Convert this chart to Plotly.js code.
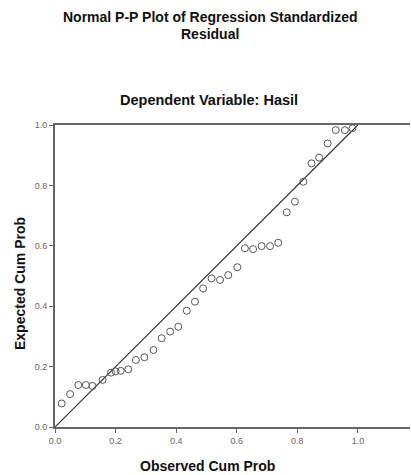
<!DOCTYPE html>
<html>
<head>
<meta charset="utf-8">
<script src="https://cdn.plot.ly/plotly-3.0.1.min.js"></script>
<style>html,body{margin:0;padding:0;background:#fff;}#chart{width:411px;height:475px;}</style>
</head>
<body>
<div id="chart"></div>
<script>
const observedCumProb = [0.022,0.050,0.077,0.102,0.124,0.157,0.185,0.200,0.217,0.242,0.267,0.295,0.325,0.352,0.380,0.407,0.435,0.462,0.489,0.517,0.545,0.572,0.602,0.627,0.654,0.682,0.710,0.737,0.765,0.792,0.820,0.847,0.872,0.900,0.927,0.957,0.982];
const expectedCumProb = [0.078,0.109,0.139,0.139,0.136,0.156,0.180,0.184,0.186,0.191,0.222,0.231,0.255,0.294,0.316,0.332,0.385,0.415,0.459,0.492,0.487,0.503,0.529,0.592,0.589,0.599,0.599,0.610,0.711,0.746,0.812,0.873,0.892,0.939,0.983,0.983,0.989];
const refLine = [0, 1];
const xTicks = [0, 0.2, 0.4, 0.6, 0.8, 1.0];
const yTicks = [0, 0.2, 0.4, 0.6, 0.8, 1.0];
const tickText = ['0.0','0.2','0.4','0.6','0.8','1.0'];
const titleLines = ['Normal P-P Plot of Regression Standardized', 'Residual'];
const subtitle = 'Dependent Variable: Hasil';
const xTitle = 'Observed Cum Prob';
const yTitle = 'Expected Cum Prob';

const font = 'Arial, "Liberation Sans", sans-serif';
const L = 55, R = 1, T = 125, B = 48, W = 411, H = 475;
const plotW = W - L - R, plotH = H - T - B;
const px = x => (x - L) / plotW;
const py = y => (H - B - y) / plotH;

const traces = [
  {x: refLine, y: refLine, mode: 'lines', line: {color: '#333', width: 1.2}, hoverinfo: 'skip', cliponaxis: false},
  {x: observedCumProb, y: expectedCumProb, mode: 'markers', cliponaxis: false,
   marker: {symbol: 'circle-open', size: 7, color: '#555', line: {width: 1, color: '#555'}}}
];

function ann(text, x, y, size, angle) {
  return {text: '<b>' + text + '</b>', xref: 'paper', yref: 'paper', x: px(x), y: py(y),
    xanchor: 'center', yanchor: 'middle', showarrow: false, textangle: angle || 0,
    font: {size: size, family: font, color: '#111'}};
}

const layout = {
  width: W, height: H,
  margin: {l: L, r: R, t: T, b: B},
  paper_bgcolor: '#fff', plot_bgcolor: '#fff',
  showlegend: false,
  font: {family: font, color: '#000'},
  xaxis: {
    range: [0, 1.172], tickvals: xTicks, ticktext: tickText,
    showgrid: false, zeroline: false, showline: true, linecolor: '#666', linewidth: 2,
    mirror: true, ticks: 'outside', ticklen: 4, tickcolor: '#666', tickwidth: 1,
    tickfont: {size: 9, color: '#666', family: font}
  },
  yaxis: {
    range: [0, 1], tickvals: yTicks, ticktext: tickText,
    showgrid: false, zeroline: false, showline: true, linecolor: '#666', linewidth: 2,
    ticks: 'outside', ticklen: 4, tickcolor: '#666', tickwidth: 1,
    tickfont: {size: 9, color: '#666', family: font}
  },
  annotations: [
    ann(titleLines[0], 210, 17, 14),
    ann(titleLines[1], 210, 34, 14),
    ann(subtitle, 209, 100, 14.5),
    ann(xTitle, 207, 466, 14),
    ann(yTitle, 20, 284, 14, -90)
  ]
};

Plotly.newPlot('chart', traces, layout, {displayModeBar: false, staticPlot: true});
</script>
</body>
</html>
